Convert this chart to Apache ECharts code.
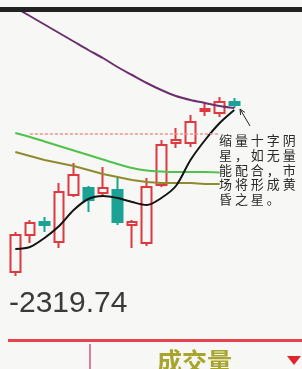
<!DOCTYPE html>
<html>
<head>
<meta charset="utf-8">
<script src="https://cdn.jsdelivr.net/npm/echarts@6/dist/echarts.min.js"></script>
<style>
html,body{margin:0;padding:0;background:#f7f7f5;}
#kline{width:302px;height:369px;}
</style>
</head>
<body>
<div id="kline"></div>
<script>
// 日K，后4格留空
var days = ['1','2','3','4','5','6','7','8','9','10','11','12','13','14','15','16','17','18','19','20'];
// open, close, low, high
var kData = [
    [2334, 2352.5, 2332, 2354],
    [2352.5, 2358.5, 2348.5, 2360],
    [2359, 2357.5, 2354, 2361.5],
    [2349, 2374, 2346, 2378.5],
    [2372.5, 2382.5, 2371.5, 2388.5],
    [2376, 2370, 2364, 2377],
    [2373.5, 2376, 2372.5, 2386.5],
    [2375, 2359, 2357.5, 2381],
    [2357.5, 2359, 2346, 2360],
    [2348.5, 2376.5, 2347, 2381],
    [2377.5, 2397.5, 2376.5, 2400],
    [2398.5, 2400, 2396, 2406],
    [2398.5, 2409, 2396.5, 2412.5],
    [2414.5, 2415.5, 2412, 2418.5],
    [2413.5, 2419, 2411.5, 2421.5],
    [2419, 2417.5, 2416, 2421]
];
var ma5 = [2345.5, 2346.5, 2351, 2357, 2365, 2370.5, 2372, 2371, 2369, 2367.5, 2371, 2377, 2390, 2400, 2408.5, 2415];
var ma20 = [2394, 2392, 2390, 2388.5, 2387, 2385, 2383, 2381.5, 2380, 2379, 2378.5, 2378.5, 2378.5, 2378, 2378];
var ma30 = [2403.5, 2401.5, 2399.25, 2397, 2394.75, 2392.5, 2390.25, 2388, 2386, 2384.75, 2384.25, 2384, 2384, 2384, 2383.75];
var ma60 = [2466.25, 2462, 2457.75, 2453.5, 2449.25, 2445, 2441, 2436.5, 2432.5, 2428.5, 2425, 2422, 2420, 2418.5, 2417, 2416];
var refPrice = 2403;
var lowLabel = '-2319.74';
var note = ['缩 量 十 字 阴', '星 ， 如 无 量', '能 配 合 ， 市', '场 将 形 成 黄', '昏 之 星 。'];

var myChart = echarts.init(document.getElementById('kline'));

var noteText = note.map(function (s, i) {
    return {
        type: 'text', z: 50,
        style: {text: s, x: 219, y: 134 + i * 14.6, font: '13px "Noto Sans CJK SC"', fill: '#2a2a2a'}
    };
});

option = {
    animation: false,
    grid: {left: 8, right: 2, top: 12, bottom: 29},
    xAxis: {type: 'category', data: days, show: false},
    yAxis: {type: 'value', min: 2300, max: 2464, show: false},
    series: [
        {
            type: 'candlestick',
            data: kData,
            barWidth: '68%',
            itemStyle: {
                color: 'transparent',
                color0: '#1aa394',
                borderColor: '#dc3a40',
                borderColor0: '#1aa394',
                borderWidth: 2
            },
            markLine: {
                silent: true,
                symbol: 'none',
                label: {show: false},
                lineStyle: {color: '#f09090', type: [3, 2], width: 1.5},
                data: [[{coord: ['2', refPrice]}, {coord: ['15', refPrice]}]]
            }
        },
        {type: 'line', data: ma60, symbol: 'none', smooth: 0.3, lineStyle: {color: '#6b2f6e', width: 2}},
        {type: 'line', data: ma30, symbol: 'none', smooth: 0.3, lineStyle: {color: '#4fc24a', width: 2}},
        {type: 'line', data: ma20, symbol: 'none', lineStyle: {color: '#8f8b2c', width: 2}},
        {type: 'line', data: ma5, symbol: 'none', smooth: 0.3, lineStyle: {color: '#141414', width: 2}}
    ],
    graphic: [
        {type: 'rect', z: 100, shape: {x: 0, y: 7, width: 302, height: 5}, style: {fill: '#222'}},
        {type: 'text', z: 50, style: {text: lowLabel, x: 9, y: 289, font: '30px "Liberation Sans"', fill: '#3a3a3a'}},
        {type: 'rect', z: 50, shape: {x: 8, y: 339, width: 294, height: 3}, style: {fill: '#e5434d'}},
        {type: 'rect', z: 50, shape: {x: 89, y: 344, width: 2, height: 25}, style: {fill: '#e37aa6'}},
        {type: 'text', z: 50, style: {text: '成交量', x: 157, y: 349, font: 'bold 25px "Noto Sans CJK SC"', fill: '#a8a52c'}},
        {type: 'polygon', z: 50, shape: {points: [[287, 356], [301, 356], [294, 365]]}, style: {fill: '#e0262a'}},
        {type: 'line', z: 50, shape: {x1: 250, y1: 126, x2: 240, y2: 109}, style: {stroke: '#222', lineWidth: 1}},
        {type: 'polyline', z: 50, shape: {points: [[240.6, 115], [240, 109], [244.9, 112.4]]}, style: {stroke: '#222', lineWidth: 1, fill: null}}
    ].concat(noteText)
};
myChart.setOption(option);
</script>
</body>
</html>
